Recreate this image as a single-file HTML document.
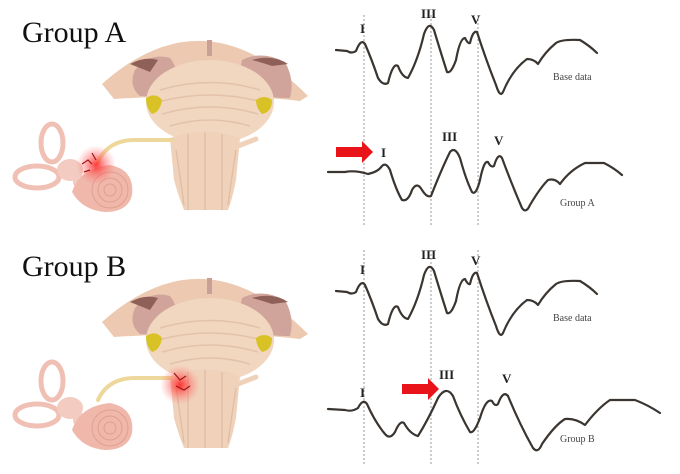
<!DOCTYPE html>
<html><head><meta charset="utf-8"><style>
html,body{margin:0;padding:0;background:#fff;}
svg{display:block;}
.lbl{font-family:"Liberation Serif",serif;font-size:30px;fill:#111;}
.pk{font-family:"Liberation Serif",serif;font-weight:bold;font-size:13px;fill:#222;}
.sm{font-family:"Liberation Serif",serif;font-size:10px;fill:#444;}
.w{fill:none;stroke:#3a3530;stroke-width:2.2;stroke-linejoin:round;stroke-linecap:round;}
.d{stroke:#999;stroke-width:1;stroke-dasharray:2,2;}
</style></head><body>
<svg width="680" height="474" viewBox="0 0 680 474" xmlns="http://www.w3.org/2000/svg">
<defs>
<radialGradient id="glow"><stop offset="0" stop-color="#ff2020" stop-opacity="0.9"/><stop offset="0.5" stop-color="#ff5050" stop-opacity="0.45"/><stop offset="1" stop-color="#ff8080" stop-opacity="0"/></radialGradient>
<g id="anat">
  <!-- cap -->
  <path d="M102,84 Q205,-8 308,96 L300,101 Q260,96 210,96 Q160,96 114,99 Z" fill="#ecc9b0"/>
  <path d="M135,70 Q150,52 170,58 Q180,70 176,90 Q160,98 140,96 Q128,86 135,70 Z" fill="#d0a49a"/>
  <path d="M242,60 Q262,50 285,62 Q295,80 290,98 Q262,98 248,90 Q238,75 242,60 Z" fill="#d0a49a"/>
  <path d="M130,64 Q145,56 158,60 L150,72 Q140,68 130,64 Z" fill="#8f6058"/>
  <path d="M252,60 Q272,54 288,64 L272,66 Q260,62 252,60 Z" fill="#8f6058"/>
  <rect x="207" y="40" width="5" height="16" fill="#c9a095"/>
  <!-- pons -->
  <ellipse cx="210" cy="102" rx="64" ry="42" fill="#f1d6c0"/>
  <path d="M160,90 Q210,75 260,90 M158,102 Q210,88 262,102 M162,114 Q210,100 258,114 M170,126 Q210,114 250,126" stroke="#e3c2aa" stroke-width="1.5" fill="none"/>
  <path d="M146,98 Q156,92 162,100 Q160,112 152,114 Q146,108 146,98 Z" fill="#d8c226"/>
  <path d="M256,100 Q264,94 272,100 Q272,112 262,114 Q256,108 256,100 Z" fill="#d8c226"/>
  <!-- brainstem -->
  <path d="M170,138 Q205,125 240,138 L236,180 Q232,200 228,210 L184,210 Q178,195 174,180 Z" fill="#f0d2bb"/>
  <path d="M188,134 L188,210 M205,132 L205,210 M222,134 L222,210 M176,150 Q180,175 184,205 M236,150 Q232,175 228,205" stroke="#e0bca3" stroke-width="1.3" fill="none"/>
  <path d="M238,146 L256,139" stroke="#f0d2bb" stroke-width="5" stroke-linecap="round"/>
  <!-- nerve -->
  <path d="M98,162 Q108,140 135,140 L172,140" stroke="#eed79a" stroke-width="4" fill="none" stroke-linecap="round"/>
  <!-- ear -->
  <ellipse cx="52" cy="143" rx="11" ry="19" fill="none" stroke="#f0c0b5" stroke-width="5"/>
  <ellipse cx="37" cy="177" rx="22" ry="11" fill="none" stroke="#f0c0b5" stroke-width="5"/>
  <ellipse cx="70" cy="170" rx="13" ry="11" fill="#f3cbc0"/>
  <circle cx="80" cy="182" r="7" fill="#f3cbc0"/>
  <path d="M72,192 Q80,168 110,165 Q135,170 132,195 Q128,212 105,212 Q82,210 72,192 Z" fill="#f0b8ab"/>
  <circle cx="110" cy="190" r="18" fill="none" stroke="#dea091" stroke-width="1"/>
  <circle cx="110" cy="190" r="12" fill="none" stroke="#dea091" stroke-width="1"/>
  <circle cx="110" cy="190" r="6" fill="none" stroke="#dea091" stroke-width="1"/>
</g>
</defs>

<text class="lbl" x="22" y="42">Group A</text>
<use href="#anat"/>
<circle cx="96" cy="165" r="20" fill="url(#glow)"/>
<path d="M82,164 L88,160 L92,164 M92,153 L96,160 M84,172 L90,170" stroke="#a01515" stroke-width="1.2" fill="none"/>

<text class="lbl" x="22" y="276">Group B</text>
<use href="#anat" y="238"/>
<circle cx="180" cy="385" r="20" fill="url(#glow)"/>
<path d="M174,373 L180,380 L186,376 M176,386 L184,390 L190,386" stroke="#a01515" stroke-width="1.2" fill="none"/>

<line class="d" x1="364" y1="15" x2="364" y2="225"/>
<line class="d" x1="431" y1="15" x2="431" y2="225"/>
<line class="d" x1="478" y1="15" x2="478" y2="225"/>
<line class="d" x1="364" y1="250" x2="364" y2="465"/>
<line class="d" x1="431" y1="250" x2="431" y2="465"/>
<line class="d" x1="478" y1="250" x2="478" y2="465"/>

<g id="base">
<path class="w" d="M336,50 L347,51 Q352,54 356,51 Q361,38 365,44 Q372,60 378,78 Q383,86 388,83 Q393,62 398,66 Q402,77 408,78 Q418,60 424,34 Q429,20 434,30 Q440,50 447,72 Q451,74 456,60 Q460,38 465,38 Q468,44 470,43 Q473,30 477,32 Q486,60 496,85 Q500,98 503,92 Q512,70 527,59 Q534,59 538,64 Q545,52 556,43 Q562,39 580,40 Q590,46 597,53"/>
<text class="sm" x="553" y="80">Base data</text>
<text class="pk" x="360" y="33">I</text>
<text class="pk" x="421" y="18">III</text>
<text class="pk" x="471" y="24">V</text>
</g>
<use href="#base" y="241"/>

<path class="w" d="M328,172 L345,172 Q355,170 368,174 Q378,172 382,166 Q386,162 390,170 Q396,190 402,200 Q408,202 412,190 Q417,181 422,190 Q427,198 431,196 Q442,168 450,152 Q455,146 460,158 Q466,180 472,192 Q476,196 480,180 Q484,160 488,162 Q491,168 494,166 Q498,152 502,158 Q512,185 522,208 Q526,214 530,205 Q540,188 548,180 Q555,178 560,184 Q570,170 585,163 L604,163 Q614,168 622,175"/>
<text class="sm" x="560" y="206">Group A</text>
<text class="pk" x="381" y="157">I</text>
<text class="pk" x="442" y="141">III</text>
<text class="pk" x="494" y="145">V</text>
<path d="M336,147 L362,147 L362,141 L373,152 L362,163 L362,157 L336,157 Z" fill="#e8141a"/>

<path class="w" d="M328,409 L345,410 Q352,412 358,408 Q363,398 367,404 Q375,422 385,434 Q390,440 395,432 Q400,420 404,423 Q410,434 418,436 Q428,420 438,398 Q446,385 453,396 Q460,415 470,432 Q474,434 480,418 Q486,398 492,401 Q495,407 498,404 Q503,390 508,396 Q520,425 533,448 Q538,454 542,444 Q555,425 565,419 Q575,418 585,425 Q598,408 610,400 L635,400 Q648,405 660,413"/>
<text class="sm" x="560" y="442">Group B</text>
<text class="pk" x="360" y="397">I</text>
<text class="pk" x="439" y="379">III</text>
<text class="pk" x="502" y="383">V</text>
<path d="M402,384 L428,384 L428,378 L439,389 L428,400 L428,394 L402,394 Z" fill="#e8141a"/>
</svg>
</body></html>
